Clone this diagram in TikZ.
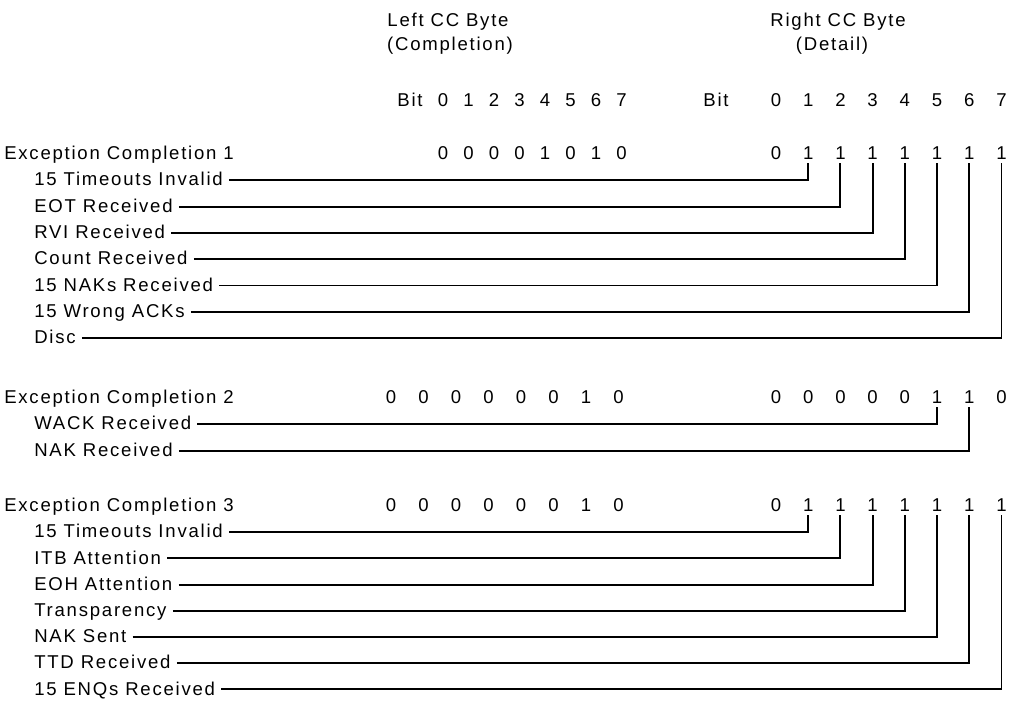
\documentclass[tikz,border=0pt]{standalone}
\usepackage{fontspec}
\setmainfont{Liberation Sans}[LetterSpace=9.5]
\usetikzlibrary{calc}

\begin{document}
\begin{tikzpicture}[
    x=0.025cm, y=-0.025cm,
    txt/.style={inner sep=0pt, text height=9.4pt, text depth=0pt, font=\fontsize{13.2}{15}\selectfont},
    lbl/.style={txt, anchor=west},
    lead/.style={line width=1.3pt}
]
\useasboundingbox (0,0) rectangle (1011,701);

% Byte headings
\node[txt] (lefthead) at (448,20) {Left CC Byte};
\node[txt] (leftsub) at (450,44) {(Completion)};
\node[txt] (righthead) at (838,20) {Right CC Byte};
\node[txt] (rightsub) at (832,44) {(Detail)};

% Bit numbers
\node[txt] (lbit) at (410,100) {Bit};
\node[txt] (rbit) at (716,100) {Bit};
\foreach \i in {0,...,7} {
    \node[txt] (lh\i) at (443+25.5*\i,100) {\i};
    \node[txt] (rh\i) at (776+32.2*\i,100) {\i};
}

% Exception Completion 1
\node[lbl] (ec1) at (4,153) {Exception Completion 1};
\foreach \v [count=\i from 0] in {0,0,0,0,1,0,1,0}
    \node[txt] (a\i) at (443+25.5*\i,153) {\v};
\foreach \v [count=\i from 0] in {0,1,1,1,1,1,1,1}
    \node[txt] (b\i) at (776+32.2*\i,153) {\v};
\foreach \t [count=\k] in {15 Timeouts Invalid, EOT Received, RVI Received,
        Count Received, 15 NAKs Received, 15 Wrong ACKs, Disc} {
    \node[lbl] (one\k) at (34,153+26.3*\k) {\t};
    \coordinate (onetop\k) at (776+32.2*\k,163);
    \draw[lead] ($(one\k.east)+(6,1)$) -| (onetop\k);
}

% Exception Completion 2
\node[lbl] (ec2) at (4,397) {Exception Completion 2};
\foreach \v [count=\i from 0] in {0,0,0,0,0,0,1,0}
    \node[txt] (c\i) at (391+32.5*\i,397) {\v};
\foreach \v [count=\i from 0] in {0,0,0,0,0,1,1,0}
    \node[txt] (d\i) at (776+32.2*\i,397) {\v};
\foreach \t/\b [count=\k] in {WACK Received/5, NAK Received/6} {
    \node[lbl] (two\k) at (34,397+26.3*\k) {\t};
    \coordinate (twotop\k) at (776+32.2*\b,407);
    \draw[lead] ($(two\k.east)+(6,1)$) -| (twotop\k);
}

% Exception Completion 3
\node[lbl] (ec3) at (4,505) {Exception Completion 3};
\foreach \v [count=\i from 0] in {0,0,0,0,0,0,1,0}
    \node[txt] (e\i) at (391+32.5*\i,505) {\v};
\foreach \v [count=\i from 0] in {0,1,1,1,1,1,1,1}
    \node[txt] (f\i) at (776+32.2*\i,505) {\v};
\foreach \t [count=\k] in {15 Timeouts Invalid, ITB Attention, EOH Attention,
        Transparency, NAK Sent, TTD Received, 15 ENQs Received} {
    \node[lbl] (three\k) at (34,505+26.2*\k) {\t};
    \coordinate (threetop\k) at (776+32.2*\k,515);
    \draw[lead] ($(three\k.east)+(6,1)$) -| (threetop\k);
}

\end{tikzpicture}
\end{document}
